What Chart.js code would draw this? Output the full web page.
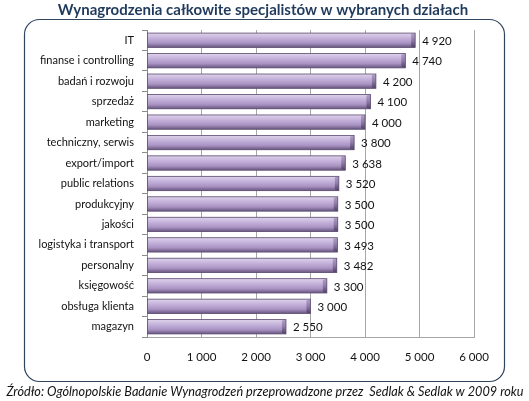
<!DOCTYPE html>
<html>
<head>
<meta charset="utf-8">
<script src="https://cdn.jsdelivr.net/npm/chart.js@4/dist/chart.umd.min.js"></script>
<style>
  html, body { margin: 0; padding: 0; background: #fff; }
  #wrap { width: 529px; height: 401px; }
</style>
</head>
<body>
<div id="wrap"><canvas id="chart-canvas" width="529" height="401"></canvas></div>
<script>
// data
let departments = [
  "IT", "finanse i controlling", "badań i rozwoju", "sprzedaż", "marketing",
  "techniczny, serwis", "export/import", "public relations", "produkcyjny",
  "jakości", "logistyka i transport", "personalny", "księgowość",
  "obsługa klienta", "magazyn"
];
let salaries = [4920, 4740, 4200, 4100, 4000, 3800, 3638, 3520, 3500, 3500, 3493, 3482, 3300, 3000, 2550];
let xTicks = [0, 1000, 2000, 3000, 4000, 5000, 6000];

let chartTitle = "Wynagrodzenia całkowite specjalistów w wybranych działach";
let sourceNote = "Źródło: Ogólnopolskie Badanie Wynagrodzeń przeprowadzone przez  Sedlak & Sedlak w 2009 roku";

function spaced(n) {
  return String(n).replace(/\B(?=(\d{3})+(?!\d))/g, " ");
}

// frame, title, source line, shaded bars and value labels
let decorPlugin = {
  id: "decor",
  beforeDraw: function (chart) {
    let c = chart.ctx;
    c.save();
    c.strokeStyle = "#2f4560";
    c.lineWidth = 1.2;
    c.beginPath();
    c.roundRect(24.5, 19.5, 480, 362, 15);
    c.stroke();

    c.fillStyle = "#1f3a5c";
    c.font = "bold 15px Lato";
    c.textAlign = "center";
    c.textBaseline = "middle";
    c.fillText(chartTitle, 263, 10);

    c.fillStyle = "#111";
    c.font = "italic 12.7px Lato";
    c.fillText(sourceNote, 265, 392);
    c.restore();
  },
  afterDatasetsDraw: function (chart) {
    let c = chart.ctx;
    let meta = chart.getDatasetMeta(0);
    c.save();
    meta.data.forEach(function (bar, i) {
      let top = bar.y - bar.height / 2;
      let bottom = bar.y + bar.height / 2;
      let left = bar.base;
      let right = bar.x;
      let g = c.createLinearGradient(0, top, 0, bottom);
      g.addColorStop(0, "#ddd2ea");
      g.addColorStop(0.35, "#c5b2db");
      g.addColorStop(0.7, "#a993c3");
      g.addColorStop(1, "#67557e");
      c.fillStyle = g;
      c.fillRect(left, top, right - left, bottom - top);

      // end cap
      let cap = 4;
      let g2 = c.createLinearGradient(0, top, 0, bottom);
      g2.addColorStop(0, "#b3a0c9");
      g2.addColorStop(0.5, "#8f7aa8");
      g2.addColorStop(1, "#4f4063");
      c.fillStyle = g2;
      c.beginPath();
      c.moveTo(right - cap, top + 1);
      c.lineTo(right, top);
      c.lineTo(right, bottom);
      c.lineTo(right - cap, bottom - 1);
      c.closePath();
      c.fill();

      c.strokeStyle = "#5e4f72";
      c.lineWidth = 0.8;
      c.strokeRect(left, top, right - left, bottom - top);

      c.fillStyle = "#111";
      c.font = "11.5px Lato";
      c.textAlign = "left";
      c.textBaseline = "middle";
      c.fillText(spaced(salaries[i]), right + 7, bar.y + 1);
    });
    c.restore();
  }
};

let chart = new Chart(document.getElementById("chart-canvas"), {
  type: "bar",
  data: {
    labels: departments,
    datasets: [
      {
        label: "Wynagrodzenie",
        data: salaries,
        backgroundColor: "#b9a6cf",
        barPercentage: 0.7,
        categoryPercentage: 1
      }
    ]
  },
  options: {
    indexAxis: "y",
    responsive: false,
    animation: false,
    layout: { padding: { left: 30, right: 55, top: 30, bottom: 30 } },
    plugins: {
      legend: { display: false },
      tooltip: { enabled: false }
    },
    scales: {
      x: {
        min: 0,
        max: 6000,
        afterBuildTicks: function (scale) {
          scale.ticks = xTicks.map(function (v) { return { value: v }; });
        },
        afterFit: function (scale) { scale.height = 34; },
        ticks: {
          color: "#111",
          font: { family: "Lato", size: 11.5 },
          padding: 13,
          callback: function (v) { return spaced(v); }
        },
        grid: { color: "#a6a6a6", drawTicks: false },
        border: { color: "#a6a6a6" }
      },
      y: {
        afterFit: function (scale) { scale.width = 117; },
        ticks: {
          color: "#111",
          font: { family: "Lato", size: 11 },
          padding: 8
        },
        grid: {
          drawOnChartArea: false,
          offset: true,
          tickLength: 5,
          color: "#8c8c8c"
        },
        border: { color: "#8c8c8c" }
      }
    }
  },
  plugins: [decorPlugin]
});
</script>
</body>
</html>
